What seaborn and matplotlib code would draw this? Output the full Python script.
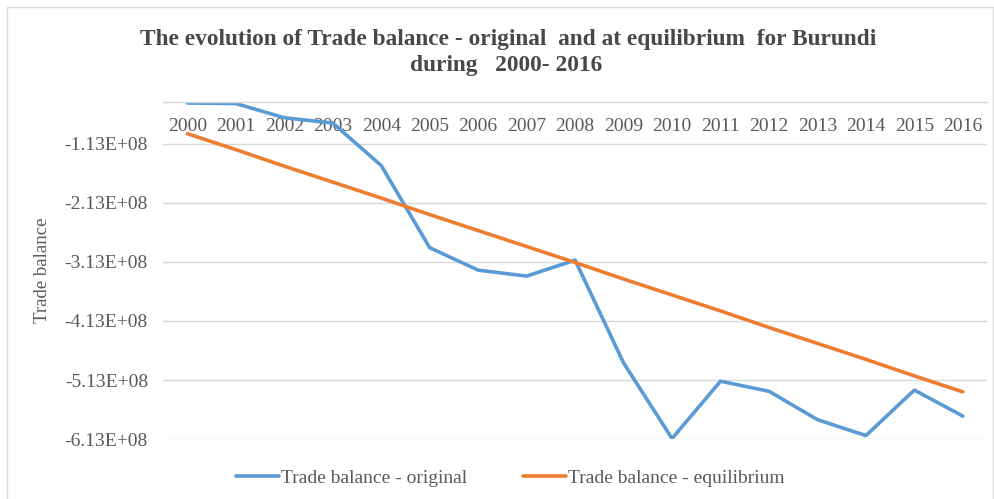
import pandas as pd
import seaborn as sns
import matplotlib.pyplot as plt
from matplotlib.patches import Rectangle

# Data (values in units of 1E+08)
years = list(range(2000, 2017))
original = [-0.44, -0.45, -0.69, -0.78, -1.50, -2.89, -3.27, -3.37, -3.10,
            -4.84, -6.12, -5.15, -5.32, -5.80, -6.07, -5.30, -5.74]
equilibrium = [-0.96, -1.23, -1.51, -1.78, -2.05, -2.33, -2.60, -2.87, -3.14,
               -3.42, -3.69, -3.96, -4.24, -4.51, -4.78, -5.06, -5.33]
series_names = ['Trade balance - original', 'Trade balance - equilibrium']
ytick_vals = [-1.13, -2.13, -3.13, -4.13, -5.13, -6.13]

df = pd.DataFrame({
    'year': years * 2,
    'value': [v * 1e8 for v in original + equilibrium],
    'series': [series_names[0]] * len(years) + [series_names[1]] * len(years),
})

sns.set_theme(style='white')
plt.rcParams['font.family'] = ['Liberation Serif', 'DejaVu Serif']

grey = '#595959'
grid = '#d9d9d9'

fig = plt.figure(figsize=(9.95, 4.99), dpi=100)
ax = fig.add_axes([0.164, 0.120, 0.828, 0.676])

sns.lineplot(data=df, x='year', y='value', hue='series', ax=ax,
             palette=['#5B9BD5', '#ED7D31'], linewidth=2.6)

ax.set_xlim(1999.5, 2016.5)
ax.set_ylim(-6.13e8, -0.42e8)

ax.set_yticks([v * 1e8 for v in ytick_vals])
ax.set_yticklabels(['{:.2E}'.format(v * 1e8) for v in ytick_vals])
ax.set_xticks(years)
ax.set_xticklabels([str(y) for y in years])

ax.yaxis.grid(True, color=grid, linewidth=1)
ax.set_axisbelow(True)
for side in ['left', 'right', 'bottom']:
    ax.spines[side].set_visible(False)
ax.spines['top'].set_color(grid)
ax.spines['top'].set_linewidth(1)

ax.tick_params(axis='x', top=False, bottom=False, labeltop=True,
               labelbottom=False, pad=-24, length=0, labelsize=14,
               labelcolor=grey)
ax.tick_params(axis='y', left=False, length=0, pad=11, labelsize=14,
               labelcolor=grey)

ax.set_xlabel('')
ax.set_ylabel('Trade balance', fontsize=13.5, color=grey)
ax.yaxis.set_label_coords(-0.136, 0.5)

handles, labels = ax.get_legend_handles_labels()
ax.get_legend().remove()
fig.legend(handles, labels, loc='center', bbox_to_anchor=(0.513, 0.042),
           ncol=2, frameon=False, fontsize=14, handlelength=2.2,
           handletextpad=0.1, columnspacing=2.9, labelcolor=grey)

title_color = '#484848'
fig.text(0.511, 0.920,
         'The evolution of Trade balance - original  and at equilibrium  for Burundi',
         ha='center', va='center', fontsize=16.8, fontweight='bold', color=title_color)
fig.text(0.509, 0.868, 'during   2000- 2016',
         ha='center', va='center', fontsize=16.8, fontweight='bold', color=title_color)

fig.patches.append(Rectangle((7 / 995, -0.01), 986 / 995, 1 - 7 / 499 + 0.01,
                             transform=fig.transFigure, fill=False,
                             edgecolor=grid, linewidth=1))

fig.savefig('out.png', dpi=100)
